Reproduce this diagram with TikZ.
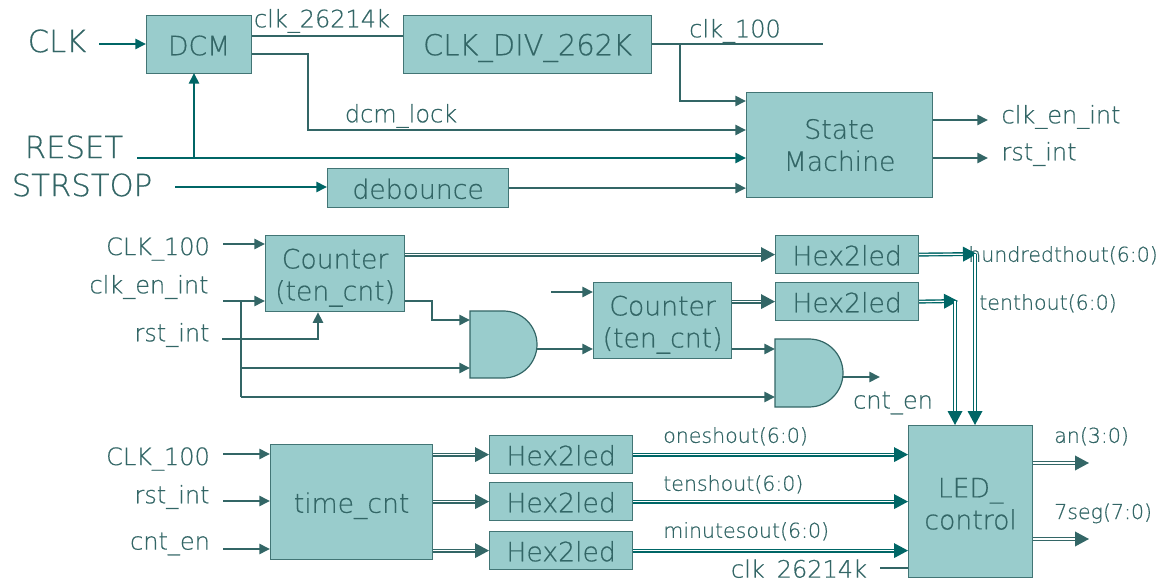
\documentclass[tikz,border=0pt]{standalone}
\usepackage{fontspec}
\setmainfont{DejaVu Sans ExtraLight}[RawFeature={embolden=0.5}]
\usetikzlibrary{arrows.meta,calc}
\definecolor{boxfill}{HTML}{99CCCC}
\definecolor{dark}{HTML}{336666}
\definecolor{teal2}{HTML}{006666}
\tikzset{
 x=0.75pt,y=-0.75pt,
 box/.style={draw=dark!85!boxfill,fill=boxfill,line width=0.9pt,inner sep=0pt,align=center,text=dark,anchor=north west},
 one/.style={text height=16pt,text depth=0pt},
 lbl/.style={text=dark,inner sep=0pt,align=center},
 big/.style={font=\fontsize{20}{24}\selectfont},
 caps/.style={font=\fontsize{23}{27}\selectfont},
 divf/.style={font=\fontsize{21.7}{26}\selectfont},
 mid/.style={font=\fontsize{18}{23}\selectfont},
 small/.style={font=\fontsize{15.4}{18}\selectfont},
 wire/.style={draw=dark,line width=1.9pt},
 wiret/.style={draw=teal2,line width=1.9pt},
 arr/.style={wire,-{Triangle[length=8pt,width=7.5pt]}},
 arrt/.style={wiret,-{Triangle[length=8pt,width=7.5pt]}},
 dbl/.style={draw=dark,line width=1.05pt,double=white,double distance=0.9pt,-{Triangle[length=10.5pt,width=11pt]}},
 dblt/.style={draw=teal2,line width=1.05pt,double=white,double distance=0.9pt,-{Triangle[length=10.5pt,width=11pt]}},
 gate/.style={draw=dark,fill=boxfill,line width=0.9pt},
}
\begin{document}
\begin{tikzpicture}
\useasboundingbox (0,0) rectangle (1162,580);
% boxes
\node[box,big,one,minimum width=78.75pt,minimum height=43.5pt] (dcm) at (146,15) {DCM};
\node[box,divf,one,minimum width=186pt,minimum height=43.5pt] (div) at (403,15) {CLK\_DIV\_262K};
\node[box,big,minimum width=139.5pt,minimum height=78.75pt] (sm) at (746,92) {State\\Machine};
\node[box,big,one,minimum width=135.75pt,minimum height=29.25pt] (deb) at (327,168) {debounce};
\node[box,big,minimum width=104.25pt,minimum height=57pt] (c1) at (265,235) {\rule{0pt}{21pt}Counter\\(ten\_cnt)};
\node[box,big,minimum width=103.5pt,minimum height=57pt] (c2) at (593,282) {\rule{0pt}{21pt}Counter\\(ten\_cnt)};
\node[box,big,one,minimum width=107.25pt,minimum height=28.5pt] (h1) at (775,235) {Hex2led};
\node[box,big,one,minimum width=107.25pt,minimum height=28.5pt] (h2) at (775,282) {Hex2led};
\node[box,big,one,minimum width=121.5pt,minimum height=86.25pt] (tc) at (270,444) {time\_cnt};
\node[box,big,one,minimum width=107.25pt,minimum height=28.5pt] (h3) at (489,435) {Hex2led};
\node[box,big,one,minimum width=107.25pt,minimum height=28.5pt] (h4) at (489,482) {Hex2led};
\node[box,big,one,minimum width=107.25pt,minimum height=28.5pt] (h5) at (489,531) {Hex2led};
\node[box,big,minimum width=93pt,minimum height=114pt] (led) at (908,425) {\rule{0pt}{18pt}LED\_\\control};
% gates
\draw[gate] (470,311) -- (503.5,311) arc[start angle=-90,end angle=90,radius=33.5] -- (470,378) -- cycle;
\draw[gate] (775,339) -- (809,339) arc[start angle=-90,end angle=90,radius=34] -- (775,407) -- cycle;
\coordinate (g1a) at (470,320); \coordinate (g1b) at (470,368); \coordinate (g1o) at (537,349);
\coordinate (g2a) at (775,349); \coordinate (g2b) at (775,397); \coordinate (g2o) at (843,377);
% labels
\node[lbl,caps] (tclk) at (57,41) {CLK};
\node[lbl,caps] (trst) at (74,147) {RESET};
\node[lbl,caps] (tstr) at (82,185) {STRSTOP};
\node[lbl,mid,yshift=-1.5pt] (t26a) at (322,19) {clk\_26214k};
\node[lbl,mid,yshift=-1.5pt] (t100) at (735,29) {clk\_100};
\node[lbl,mid,yshift=-1.5pt] (tlock) at (401,114) {dcm\_lock};
\node[lbl,mid,yshift=-1.5pt] (ten) at (1061,115) {clk\_en\_int};
\node[lbl,mid,yshift=-1.5pt] (trs) at (1039,152) {rst\_int};
\node[lbl,mid,yshift=-1.5pt] (l1) at (158,247) {CLK\_100};
\node[lbl,mid,yshift=-1.5pt] (l2) at (149,285) {clk\_en\_int};
\node[lbl,mid,yshift=-1.5pt] (l3) at (172,333) {rst\_int};
\node[lbl,mid,yshift=-1.5pt] (tcnt) at (893,401) {cnt\_en};
\node[lbl,mid,yshift=-1.5pt] (b1) at (158,457) {CLK\_100};
\node[lbl,mid,yshift=-1.5pt] (b2) at (172,495) {rst\_int};
\node[lbl,mid,yshift=-1.5pt] (b3) at (170,542) {cnt\_en};
\node[lbl,small,anchor=west,yshift=-1pt] (thun) at (968,254) {hundredthout(6:0)};
\node[lbl,small,anchor=west,yshift=-1pt] (tten) at (979,302) {tenthout(6:0)};
\node[lbl,small,anchor=west,yshift=-1pt] (tone) at (663,435) {oneshout(6:0)};
\node[lbl,small,anchor=west,yshift=-1pt] (ttens) at (663,483) {tenshout(6:0)};
\node[lbl,small,anchor=west,yshift=-1pt] (tmin) at (663,530) {minutesout(6:0)};
\node[lbl,mid,yshift=-1pt] (t26b) at (799,570) {clk\_26214k};
\node[lbl,small,anchor=west,yshift=-1pt] (tan) at (1054,435) {an(3:0)};
\node[lbl,small,anchor=west,yshift=-1pt] (t7) at (1054,512) {7seg(7:0)};
% free ends
\coordinate (clkS) at (99,44);
\coordinate (rstS) at (137,158);
\coordinate (strS) at (175,187);
\coordinate (o100) at (823,44);
\coordinate (oen) at (988,120);
\coordinate (ors) at (988,158);
\coordinate (l1s) at (223,244);
\coordinate (l2s) at (223,301);
\coordinate (l3s) at (222,339);
\coordinate (c2s) at (551,292);
\coordinate (cout) at (880,377);
\coordinate (b1s) at (223,454);
\coordinate (b2s) at (223,501);
\coordinate (b3s) at (223,549);
\coordinate (k1) at (977,254);
\coordinate (k2) at (958,301);
\coordinate (oan) at (1089,463);
\coordinate (o7) at (1089,539);
\coordinate (k26) at (880,568);
% top wires
\draw[arrt] (clkS) -- (clkS -| dcm.west);
\draw[wire] (dcm.east |- 0,36) -- (div.west |- 0,36);
\draw[wire] (div.east |- o100) -- (o100);
\draw[arr] (680,44) |- (sm.west |- 0,101);
\draw[arr] (dcm.east |- 0,54) -| (308,130) -- (sm.west |- 0,130);
\draw[arrt] (rstS) -- (sm.west |- rstS);
\draw[arrt] (194,158) -- (194,73);
\draw[arrt] (strS) -- (strS -| deb.west);
\draw[arr] (deb.east) -- (sm.west |- deb.east);
\draw[arr] (sm.east |- oen) -- (oen);
\draw[arr] (sm.east |- ors) -- (ors);
% middle wires
\draw[arr] (l1s) -- (l1s -| c1.west);
\draw[arr] (l2s) -- (l2s -| c1.west);
\draw[arr] (l3s) -| (c1.south -| 318,0);
\draw[wire] (241,301) -- (241,397);
\draw[arr] (241,368) -- (g1b);
\draw[arr] (241,397) -- (g2b);
\draw[arr] (c1.east |- 0,301) -| (432,320) -- (g1a);
\draw[arr] (g1o) -- (g1o -| c2.west);
\draw[arr] (c2s) -- (c2s -| c2.west);
\draw[arr] (c2.east |- g2a) -- (g2a);
\draw[arr] (g2o) -- (cout);
\draw[dbl] (c1.east |- h1.west) -- (h1.west);
\draw[dbl] (c2.east |- h2.west) -- (h2.west);
\draw[dblt] (h1.east) -- (k1);
\draw[dblt] (h2.east) -- (k2);
\draw[dblt] (975,254) -- (led.north -| 975,0);
\draw[dblt] (955,301) -- (led.north -| 955,0);
% bottom wires
\draw[arr] (b1s) -- (b1s -| tc.west);
\draw[arr] (b2s) -- (b2s -| tc.west);
\draw[arr] (b3s) -- (b3s -| tc.west);
\draw[dbl] (tc.east |- h3.west) -- (h3.west);
\draw[dbl] (tc.east |- h4.west) -- (h4.west);
\draw[dbl] (tc.east |- h5.west) -- (h5.west);
\draw[dblt] (h3.east) -- (led.west |- h3.east);
\draw[dblt] (h4.east) -- (led.west |- h4.east);
\draw[dblt] (h5.east) -- (led.west |- h5.east);
\draw[wire] (k26) -- (k26 -| led.west);
\draw[dbl] (led.east |- oan) -- (oan);
\draw[dbl] (led.east |- o7) -- (o7);
\end{tikzpicture}
\end{document}
